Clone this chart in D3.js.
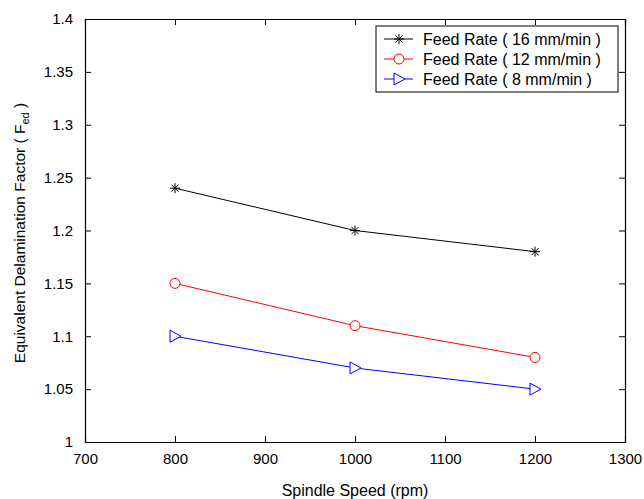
<!DOCTYPE html>
<meta charset="utf-8">
<style>
body { margin: 0; background: #fff; }
text { font-family: "Liberation Sans", Arial, Helvetica, sans-serif; fill: #000; }
</style>
<body>
<div id="chart"></div>
<script src="https://cdnjs.cloudflare.com/ajax/libs/d3/7.8.5/d3.min.js"></script>
<script>
// spindle speed (rpm)
var speeds = [800, 1000, 1200];
// equivalent delamination factor for each feed rate
var fed16 = [1.24, 1.20, 1.18];
var fed12 = [1.15, 1.11, 1.08];
var fed8 = [1.10, 1.07, 1.05];
var seriesNames = ["Feed Rate ( 16 mm/min )", "Feed Rate ( 12 mm/min )", "Feed Rate ( 8 mm/min )"];
var xTicks = [700, 800, 900, 1000, 1100, 1200, 1300];
var yTicks = [1, 1.05, 1.1, 1.15, 1.2, 1.25, 1.3, 1.35, 1.4];

var series = [
  {name: seriesNames[0], values: fed16, color: "#000", marker: "star"},
  {name: seriesNames[1], values: fed12, color: "#ff0000", marker: "circle"},
  {name: seriesNames[2], values: fed8, color: "#0000ff", marker: "tri"}
];

var width = 644, height = 499;
var mLeft = 85, mRight = 625, mTop = 19, mBottom = 442;

var svg = d3.select("#chart").append("svg")
  .attr("width", width).attr("height", height);

var x = d3.scaleLinear().domain([700, 1300]).range([mLeft, mRight]);
var y = d3.scaleLinear().domain([1, 1.4]).range([mBottom, mTop]);

// axes with inward ticks on all four sides
var fmt = function(d) { return String(+d.toFixed(2)); };
var axB = svg.append("g").attr("transform", "translate(0," + mBottom + ")")
  .call(d3.axisBottom(x).tickValues(xTicks).tickSize(-6).tickPadding(11).tickFormat(d3.format("d")));
var axT = svg.append("g").attr("transform", "translate(0," + mTop + ")")
  .call(d3.axisTop(x).tickValues(xTicks).tickSize(-6).tickFormat(""));
var axL = svg.append("g").attr("transform", "translate(" + mLeft + ",0)")
  .call(d3.axisLeft(y).tickValues(yTicks).tickSize(-6).tickPadding(12).tickFormat(fmt));
var axR = svg.append("g").attr("transform", "translate(" + mRight + ",0)")
  .call(d3.axisRight(y).tickValues(yTicks).tickSize(-6).tickFormat(""));

[axB, axT, axL, axR].forEach(function(g) {
  g.select(".domain").attr("stroke", "#000").attr("stroke-width", 1.2);
  g.selectAll(".tick line").attr("stroke", "#000");
  g.selectAll("text").attr("font-size", 15).attr("font-family", "Liberation Sans, Arial, sans-serif").attr("fill", "#000");
});

// axis titles
svg.append("text").attr("x", (mLeft + mRight) / 2).attr("y", 496)
  .attr("text-anchor", "middle").attr("font-size", 16).text("Spindle Speed (rpm)");

var yl = svg.append("text").attr("transform", "translate(25,233) rotate(-90)")
  .attr("text-anchor", "middle").attr("font-size", 15.5);
yl.append("tspan").text("Equivalent Delamination Factor ( F");
yl.append("tspan").attr("font-size", 11).attr("dy", 4).text("ed");
yl.append("tspan").attr("dy", -4).text(" )");

function drawMarker(g, type, color, cx, cy) {
  if (type === "star") {
    var s = 5;
    g.append("path")
      .attr("d", "M" + (cx - s) + "," + cy + "H" + (cx + s) + "M" + cx + "," + (cy - s) + "V" + (cy + s) +
        "M" + (cx - s * 0.7) + "," + (cy - s * 0.7) + "L" + (cx + s * 0.7) + "," + (cy + s * 0.7) +
        "M" + (cx - s * 0.7) + "," + (cy + s * 0.7) + "L" + (cx + s * 0.7) + "," + (cy - s * 0.7))
      .attr("stroke", color).attr("stroke-width", 1).attr("fill", "none");
  } else if (type === "circle") {
    g.append("circle").attr("cx", cx).attr("cy", cy).attr("r", 5)
      .attr("stroke", color).attr("fill", "#fff").attr("stroke-width", 1);
  } else {
    g.append("path")
      .attr("d", "M" + (cx - 5) + "," + (cy - 6) + "L" + (cx + 6) + "," + cy + "L" + (cx - 5) + "," + (cy + 6) + "Z")
      .attr("stroke", color).attr("fill", "#fff").attr("stroke-width", 1);
  }
}

var line = d3.line().x(function(d, i) { return x(speeds[i]); }).y(function(d) { return y(d); });

series.forEach(function(s) {
  var g = svg.append("g");
  g.append("path").attr("d", line(s.values)).attr("fill", "none")
    .attr("stroke", s.color).attr("stroke-width", 1);
  s.values.forEach(function(v, i) { drawMarker(g, s.marker, s.color, x(speeds[i]), y(v)); });
});

// legend
var lg = svg.append("g");
lg.append("rect").attr("x", 376).attr("y", 26).attr("width", 242).attr("height", 66)
  .attr("fill", "#fff").attr("stroke", "#000").attr("stroke-width", 1);
series.forEach(function(s, i) {
  var ly = 39 + i * 20;
  lg.append("line").attr("x1", 384).attr("x2", 413).attr("y1", ly).attr("y2", ly)
    .attr("stroke", s.color).attr("stroke-width", 1);
  drawMarker(lg, s.marker, s.color, 399, ly);
  lg.append("text").attr("x", 423).attr("y", ly + 5.5).attr("font-size", 16).text(s.name);
});
</script>
</body>
